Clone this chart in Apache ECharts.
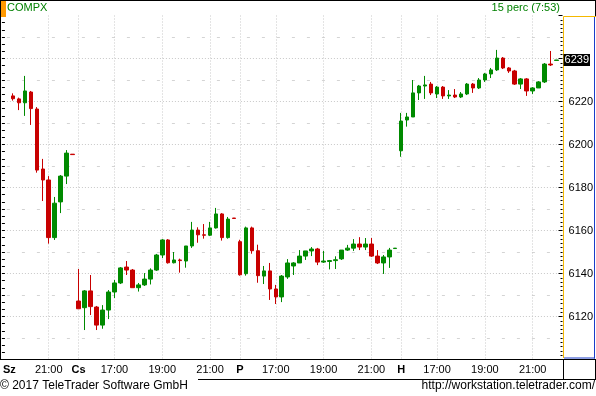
<!DOCTYPE html>
<html>
<head>
<meta charset="utf-8">
<style>
html,body{margin:0;padding:0;background:#fff;}
#chart{width:596px;height:396px;}
</style>
<script src="https://cdn.jsdelivr.net/npm/echarts@6/dist/echarts.min.js"></script>
</head>
<body>
<div id="chart"></div>
<script>
// ---- data ----
const symbolName = 'COMPX';
const periodText = '15 perc (7:53)';
const copyrightText = '\u00a9 2017 TeleTrader Software GmbH';
const urlText = 'http://workstation.teletrader.com/';

const days = ['Sz', 'Cs', 'P', 'H'];
const sessionTimes = ['15:30','15:45','16:00','16:15','16:30','16:45','17:00','17:15','17:30','17:45',
  '18:00','18:15','18:30','18:45','19:00','19:15','19:30','19:45','20:00','20:15','20:30','20:45',
  '21:00','21:15','21:30','21:45','22:00'];
const tickTimes = ['17:00', '19:00', '21:00'];
const wedFirstTime = '19:15';   // first (empty) slot shown for Wednesday
const padAfterTime = '22:15';   // empty slot after Monday close

// [open, close, low, high]
const wedBars = [
  [6222.6, 6221.3, 6220.4, 6223.8],
  [6221.2, 6219.4, 6216.0, 6221.8],
  [6219.4, 6224.9, 6213.3, 6231.9],
  [6224.4, 6216.7, 6209.1, 6224.9],
  [6216.5, 6188.1, 6186.9, 6217.4],
  [6188.6, 6183.5, 6173.7, 6193.3],
  [6183.5, 6156.7, 6153.9, 6185.3],
  [6156.7, 6172.7, 6155.6, 6175.6],
  [6173.3, 6185.3, 6168.1, 6185.8],
  [6185.3, 6196.0, 6181.6, 6197.4],
  [6195.5, 6195.3, 6195.3, 6195.5]
];
const csBars = [
  [6127.2, 6123.6, 6123.6, 6142.1],
  [6124.1, 6131.9, 6113.7, 6132.3],
  [6131.9, 6124.6, 6120.7, 6139.3],
  [6124.4, 6116.0, 6113.7, 6124.9],
  [6116.0, 6123.0, 6114.3, 6125.3],
  [6123.0, 6131.4, 6118.8, 6132.3],
  [6131.4, 6135.6, 6128.6, 6137.0],
  [6135.6, 6142.6, 6135.1, 6143.0],
  [6143.0, 6141.6, 6139.3, 6145.8],
  [6141.6, 6133.4, 6133.4, 6142.1],
  [6133.4, 6134.7, 6131.6, 6135.6],
  [6134.7, 6137.4, 6134.2, 6140.2],
  [6137.4, 6141.6, 6134.9, 6142.4],
  [6141.6, 6148.6, 6141.2, 6149.1],
  [6148.6, 6155.6, 6147.2, 6156.0],
  [6155.6, 6145.0, 6144.6, 6156.0],
  [6145.0, 6146.3, 6144.7, 6150.0],
  [6146.3, 6146.0, 6140.4, 6146.9],
  [6145.8, 6152.8, 6142.7, 6152.8],
  [6152.8, 6160.2, 6151.9, 6164.0],
  [6160.2, 6158.0, 6154.3, 6161.5],
  [6158.0, 6157.8, 6156.2, 6163.0],
  [6157.8, 6161.2, 6157.4, 6164.0],
  [6161.2, 6167.7, 6160.9, 6170.5],
  [6167.7, 6156.7, 6155.3, 6168.1],
  [6156.7, 6165.3, 6156.2, 6166.3],
  [6165.8, 6165.6, 6165.6, 6165.8]
];
const pBars = [
  [6154.8, 6139.4, 6139.0, 6155.7],
  [6139.9, 6161.2, 6139.0, 6161.8],
  [6161.2, 6150.6, 6149.2, 6161.8],
  [6150.6, 6139.0, 6135.7, 6153.4],
  [6138.8, 6141.2, 6135.1, 6143.5],
  [6141.2, 6132.8, 6127.7, 6144.9],
  [6132.8, 6129.1, 6125.8, 6134.7],
  [6129.1, 6138.8, 6126.7, 6139.3],
  [6138.4, 6144.9, 6137.5, 6146.7],
  [6143.5, 6144.9, 6139.3, 6145.3],
  [6144.9, 6148.1, 6144.9, 6150.9],
  [6148.1, 6150.5, 6146.3, 6150.5],
  [6150.5, 6151.4, 6148.1, 6152.3],
  [6151.4, 6145.3, 6143.9, 6151.9],
  [6145.3, 6145.8, 6144.9, 6150.5],
  [6145.6, 6146.0, 6141.9, 6146.3],
  [6146.0, 6146.4, 6142.1, 6148.0],
  [6146.8, 6150.9, 6146.3, 6150.9],
  [6150.9, 6151.8, 6150.5, 6153.3],
  [6151.8, 6153.7, 6150.5, 6156.0],
  [6153.7, 6152.3, 6150.9, 6156.9],
  [6152.3, 6153.7, 6150.9, 6156.5],
  [6153.7, 6148.1, 6147.7, 6156.5],
  [6148.1, 6144.9, 6144.4, 6150.9],
  [6144.9, 6147.7, 6139.8, 6148.6],
  [6147.7, 6150.9, 6142.6, 6151.9],
  [6151.6, 6151.8, 6151.6, 6151.8]
];
const hBars = [
  [6197.1, 6210.9, 6194.3, 6214.7],
  [6211.4, 6212.8, 6208.3, 6214.7],
  [6212.8, 6224.0, 6212.8, 6230.0],
  [6224.0, 6227.2, 6220.7, 6227.7],
  [6227.2, 6227.7, 6221.2, 6231.9],
  [6228.1, 6224.0, 6223.0, 6229.1],
  [6223.5, 6226.7, 6221.6, 6227.2],
  [6226.7, 6222.6, 6221.2, 6227.2],
  [6222.6, 6223.0, 6221.2, 6225.3],
  [6223.0, 6222.1, 6221.6, 6225.8],
  [6222.1, 6223.5, 6221.6, 6224.4],
  [6223.5, 6228.1, 6223.0, 6228.6],
  [6228.1, 6226.3, 6224.0, 6228.6],
  [6226.3, 6230.0, 6225.8, 6230.9],
  [6230.0, 6232.8, 6229.1, 6233.3],
  [6232.8, 6234.7, 6230.9, 6235.6],
  [6234.7, 6240.2, 6234.2, 6244.0],
  [6240.2, 6235.6, 6235.1, 6240.7],
  [6235.6, 6234.2, 6233.3, 6236.0],
  [6234.2, 6228.1, 6227.7, 6234.7],
  [6228.1, 6230.5, 6225.8, 6230.9],
  [6230.5, 6224.9, 6222.6, 6230.9],
  [6224.9, 6226.3, 6223.5, 6226.7],
  [6226.3, 6229.1, 6226.3, 6229.5],
  [6229.1, 6237.4, 6228.6, 6237.9],
  [6237.4, 6237.0, 6236.5, 6243.5],
  [6239.1, 6239.3, 6239.1, 6239.3]
];

const yMin = 6100, yMax = 6260, yStep = 20;

// ---- build categories / series ----
const wedTimes = sessionTimes.slice(sessionTimes.indexOf(wedFirstTime));
const categories = [];
wedTimes.forEach(t => categories.push(days[0] + ' ' + t));
[days[1], days[2], days[3]].forEach(d => sessionTimes.forEach(t => categories.push(d + ' ' + t)));
categories.push(days[3] + ' ' + padAfterTime);

const seriesData = ['-'].concat(wedBars, csBars, pBars, hBars, ['-']);
const lastClose = hBars[hBars.length - 1][1];

function labelFor(idx, val) {
  const parts = val.split(' ');
  const d = parts[0], t = parts[1];
  if (idx === 0) return '{f|' + d + '}';
  if (t === sessionTimes[0]) return '{b|' + d + '}';
  if (tickTimes.indexOf(t) >= 0) return t;
  return '';
}

const FONT = 'Liberation Sans';
const GREEN = '#008a00';
const RED = '#c80000';
const GRID_COLOR = '#c8c8c8';

const chart = echarts.init(document.getElementById('chart'), null, {renderer: 'canvas'});

const frameLine = (x1, y1, x2, y2, color) => ({
  type: 'line', silent: true, z: 100,
  shape: {x1: x1, y1: y1, x2: x2, y2: y2},
  style: {stroke: color, lineWidth: 1}
});

const option = {
  animation: false,
  backgroundColor: '#fff',
  textStyle: {fontFamily: FONT},
  title: [
    {text: symbolName, left: 7, top: 2, padding: 0,
     textStyle: {color: '#008000', fontSize: 11, fontWeight: 'normal', fontFamily: FONT}},
    {text: periodText, right: 36, top: 2, padding: 0,
     textStyle: {color: '#008000', fontSize: 11, fontWeight: 'normal', fontFamily: FONT}},
    {text: copyrightText, left: 0, top: 380, padding: 0,
     textStyle: {color: '#000', fontSize: 12, fontWeight: 'normal', fontFamily: FONT}},
    {text: urlText, right: 1, top: 380, padding: 0,
     textStyle: {color: '#000', fontSize: 12, fontWeight: 'normal', fontFamily: FONT}}
  ],
  grid: {left: 5.5, top: 15.5, width: 558, height: 344, containLabel: false},
  xAxis: {
    type: 'category',
    data: categories,
    boundaryGap: false,
    axisLine: {show: false},
    axisTick: {show: false},
    axisLabel: {
      interval: (idx, val) => labelFor(idx, val) !== '',
      formatter: (val, idx) => labelFor(idx, val),
      color: '#000', fontSize: 11, fontFamily: FONT, margin: 5,
      rich: {
        b: {fontWeight: 'bold', fontSize: 11, color: '#000', fontFamily: FONT},
        f: {fontWeight: 'bold', fontSize: 11, color: '#000', fontFamily: FONT, padding: [0, 0, 0, 5]}
      }
    },
    splitLine: {
      show: true,
      interval: (idx, val) => idx > 0 && labelFor(idx, val) !== '',
      lineStyle: {color: GRID_COLOR, type: [1, 2], width: 1}
    }
  },
  yAxis: [
    {
      type: 'value', position: 'right',
      min: yMin, max: yMax, interval: yStep,
      axisLine: {show: false},
      axisTick: {show: true, inside: true, length: 4, lineStyle: {color: '#000'}},
      minorTick: {show: true, splitNumber: 10, length: 2, lineStyle: {color: '#000'}},
      axisLabel: {show: true, color: '#000', fontSize: 11, fontFamily: FONT, margin: 6,
                  showMinLabel: false, showMaxLabel: false,
                  formatter: v => (Math.abs(v - lastClose) < 6 ? '' : String(v))},
      splitLine: {show: true, showMinLine: false, showMaxLine: false,
                  lineStyle: {color: GRID_COLOR, type: [1, 2], width: 1}}
    },
    {
      type: 'value', position: 'left', offset: 5,
      min: yMin, max: yMax, interval: yStep,
      axisLine: {show: false},
      axisTick: {show: true, inside: true, length: 3, lineStyle: {color: '#000'}},
      minorTick: {show: true, splitNumber: 6, length: 3, lineStyle: {color: '#000'}},
      axisLabel: {show: false},
      splitLine: {show: false}
    },
    {
      type: 'value', position: 'right',
      min: yMin, max: yMax, interval: yStep,
      axisLine: {show: false},
      axisTick: {show: false},
      axisLabel: {show: false},
      splitLine: {show: false},
      minorTick: {show: false, splitNumber: 2},
      minorSplitLine: {show: true, lineStyle: {color: '#d4d4d4', type: [3, 12], width: 1}}
    }
  ],
  series: [{
    type: 'candlestick',
    xAxisIndex: 0, yAxisIndex: 0,
    data: seriesData,
    barWidth: 4,
    itemStyle: {
      color: GREEN, color0: RED,
      borderColor: GREEN, borderColor0: RED,
      borderWidth: 1
    },
    markLine: {
      silent: true,
      symbol: ['none', 'none'],
      animation: false,
      z: 120,
      lineStyle: {color: 'rgba(0,0,0,0)', width: 1, type: 'solid'},
      label: {
        show: true, position: 'end', distance: 1,
        formatter: p => String(Math.round(p.value)),
        color: '#fff', backgroundColor: '#000', opacity: 1,
        fontSize: 11, fontFamily: FONT, padding: [1, 1, 0, 1], lineHeight: 11
      },
      data: [{yAxis: lastClose}]
    }
  }],
  graphic: [
    {type: 'rect', silent: true, z: 100, shape: {x: 0, y: 0, width: 6, height: 17}, style: {fill: '#ff9900'}},
    frameLine(0, 0.5, 596, 0.5, '#000'),
    frameLine(0.5, 0, 0.5, 360, '#000'),
    frameLine(595.5, 0, 595.5, 17, '#000'),
    frameLine(0, 359.5, 596, 359.5, '#000'),
    frameLine(198, 379.5, 596, 379.5, '#000'),
    frameLine(563.5, 359.5, 563.5, 379.5, '#000'),
    frameLine(595.5, 359.5, 595.5, 380, '#000'),
    frameLine(563.5, 16.5, 596, 16.5, '#f5b800'),
    frameLine(563.5, 16.5, 563.5, 358, '#f5b800'),
    frameLine(594.5, 17, 594.5, 358.5, '#1a3cc8'),
    frameLine(564, 358, 595, 358, '#1a3cc8')
  ]
};

chart.setOption(option);
</script>
</body>
</html>
